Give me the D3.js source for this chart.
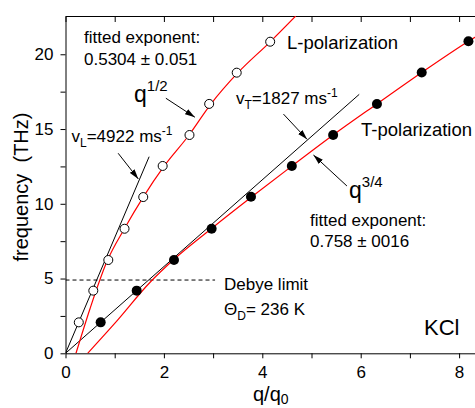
<!DOCTYPE html>
<html>
<head>
<meta charset="utf-8">
<script src="https://cdn.jsdelivr.net/npm/d3@7"></script>
<style>
  body { margin: 0; background: #fff; }
  svg { display: block; font-family: "Liberation Sans", Arial, sans-serif; }
  .axis path, .axis line { stroke: #000; stroke-width: 1; }
  .axis text { font-size: 17px; fill: #000; }
</style>
</head>
<body>
<div class="viz"></div>
<script>
// measured points, L-polarization (open circles)
const qL = [0.27, 0.565, 0.87, 1.20, 1.58, 1.975, 2.52, 2.92, 3.48, 4.16];
const fL = [2.07, 4.19, 6.24, 8.33, 10.45, 12.53, 14.6, 16.68, 18.77, 20.84];
// T-polarization (filled circles)
const qT = [0.715, 1.447, 2.205, 2.97, 3.77, 4.60, 5.44, 6.33, 7.24, 8.19];
const fT = [2.07, 4.19, 6.24, 8.33, 10.47, 12.53, 14.6, 16.68, 18.78, 20.87];

// red fitted curves
const fitLq = [0.213, 0.5, 0.85, 1.2, 1.58, 2.0, 2.5, 2.95, 3.5, 4.15, 4.68];
const fitLf = [0, 3.0, 6.2, 8.35, 10.45, 12.5, 14.55, 16.65, 18.75, 20.8, 22.56];
const fitTq = [0.45, 1.0, 1.72, 2.2, 2.97, 3.78, 4.6, 5.44, 6.33, 7.24, 8.19, 8.6];
const fitTf = [0, 2.0, 4.75, 6.27, 8.35, 10.45, 12.52, 14.6, 16.68, 18.78, 20.87, 21.7];

// sound velocity lines (black), from origin
const vLq = [0, 1.70], vLf = [0, 13.15];
const vTq = [0, 5.97], vTf = [0, 17.32];

// Debye limit
const debyeF = 4.9, debyeQ = [0, 3.04];

const xTicks = [0, 1, 2, 3, 4, 5, 6, 7, 8];
const yTicks = [0, 2.5, 5, 7.5, 10, 12.5, 15, 17.5, 20];

const width = 475, height = 408;
const x = d3.scaleLinear().domain([0, 8.5]).range([65.5, 65.5 + 8.5 * 49.2]);
const y = d3.scaleLinear().domain([0, 22.56]).range([353.3, 16]);

const svg = d3.select(".viz").append("svg")
  .attr("width", width)
  .attr("height", height);

svg.append("defs").append("clipPath").attr("id", "plot")
  .append("rect")
  .attr("x", x(0)).attr("y", y(22.56))
  .attr("width", width - x(0)).attr("height", y(0) - y(22.56));

svg.append("defs").append("marker")
  .attr("id", "arrow")
  .attr("viewBox", "0 0 10 6")
  .attr("refX", 10).attr("refY", 3)
  .attr("markerWidth", 10).attr("markerHeight", 6)
  .attr("markerUnits", "userSpaceOnUse")
  .attr("orient", "auto")
  .append("path").attr("d", "M0,0L10,3L0,6Z").attr("fill", "#000");

// axes
svg.append("g").attr("class", "axis")
  .attr("transform", `translate(0,${y(0)})`)
  .call(d3.axisBottom(x).tickValues(xTicks).tickSize(5).tickSizeOuter(0).tickPadding(8)
    .tickFormat(d => d % 2 === 0 ? d : ""));

svg.append("g").attr("class", "axis")
  .attr("transform", `translate(0,${y(22.56)})`)
  .call(d3.axisTop(x).tickValues(xTicks).tickSize(-6).tickSizeOuter(0).tickFormat(""));

svg.append("g").attr("class", "axis")
  .attr("transform", `translate(${x(0)},0)`)
  .call(d3.axisLeft(y).tickValues(yTicks).tickSize(5).tickSizeOuter(0).tickPadding(7)
    .tickFormat(d => d % 5 === 0 ? d : ""));

const plot = svg.append("g").attr("clip-path", "url(#plot)");
const line = d3.line().x(d => x(d[0])).y(d => y(d[1]));
const curve = d3.line().x(d => x(d[0])).y(d => y(d[1])).curve(d3.curveMonotoneX);

// Debye dashed line
plot.append("path")
  .attr("d", line([[debyeQ[0], debyeF], [debyeQ[1], debyeF]]))
  .attr("stroke", "#000").attr("stroke-dasharray", "4,3").attr("fill", "none");

// velocity lines
[[vLq, vLf], [vTq, vTf]].forEach(([q, f]) => {
  plot.append("path")
    .attr("d", line(q.map((v, i) => [v, f[i]])))
    .attr("stroke", "#000").attr("stroke-width", 1).attr("fill", "none");
});

// fits
[[fitLq, fitLf], [fitTq, fitTf]].forEach(([q, f]) => {
  plot.append("path")
    .attr("d", curve(q.map((v, i) => [v, f[i]])))
    .attr("stroke", "#ff0000").attr("stroke-width", 1.2).attr("fill", "none");
});

// data points
plot.selectAll("circle.l")
  .data(qL.map((v, i) => [v, fL[i]]))
  .join("circle")
  .attr("class", "l")
  .attr("cx", d => x(d[0])).attr("cy", d => y(d[1])).attr("r", 4.5)
  .attr("fill", "#fff").attr("stroke", "#000").attr("stroke-width", 1);

plot.selectAll("circle.t")
  .data(qT.map((v, i) => [v, fT[i]]))
  .join("circle")
  .attr("class", "t")
  .attr("cx", d => x(d[0])).attr("cy", d => y(d[1])).attr("r", 5)
  .attr("fill", "#000");

// annotation arrows [from, to] in data units
const arrows = [
  [[2.04, 17.06], [2.63, 15.79]],
  [[1.07, 13.38], [1.48, 11.66]],
  [[4.43, 16.0], [4.91, 14.31]],
  [[5.72, 11.19], [5.04, 13.26]]
];
svg.selectAll("path.arrow")
  .data(arrows)
  .join("path")
  .attr("class", "arrow")
  .attr("d", d => line(d))
  .attr("stroke", "#000").attr("stroke-width", 1).attr("fill", "none")
  .attr("marker-end", "url(#arrow)");

// text labels
function label(px, py, size, parts) {
  const t = svg.append("text").attr("x", px).attr("y", py)
    .attr("font-size", size).attr("fill", "#000");
  parts.forEach(p => {
    const s = t.append("tspan").text(p.t);
    if (p.size) s.attr("font-size", p.size);
    if (p.dy) s.attr("dy", p.dy);
  });
  return t;
}

label(84, 42.5, 17, [{ t: "fitted exponent:" }]);
label(84, 64.5, 17, [{ t: "0.5304 \u00b1 0.051" }]);
label(134, 101.5, 23, [{ t: "q" }, { t: "1/2", size: 15, dy: -11 }]);
label(71.5, 141.5, 17, [{ t: "v" }, { t: "L", size: 12, dy: 5 }, { t: "=4922 ms", dy: -5 },
  { t: "-1", size: 12, dy: -7 }]);
label(236, 103.5, 17, [{ t: "v" }, { t: "T", size: 12, dy: 5 }, { t: "=1827 ms", dy: -5 },
  { t: "-1", size: 12, dy: -7 }]);
label(287, 49, 18.5, [{ t: "L-polarization" }]);
label(361, 136, 18.5, [{ t: "T-polarization" }]);
label(349, 198, 23, [{ t: "q" }, { t: "3/4", size: 15, dy: -11 }]);
label(310, 226, 17, [{ t: "fitted exponent:" }]);
label(310, 246.5, 17, [{ t: "0.758 \u00b1 0016" }]);
label(224, 290, 17, [{ t: "Debye limit" }]);
label(224, 315, 17, [{ t: "\u0398" }, { t: "D", size: 12, dy: 5 }, { t: "= 236 K", dy: -5 }]);
label(424, 335, 22, [{ t: "KCl" }]);

// axis titles
label(253, 401, 20, [{ t: "q/q" }, { t: "0", size: 14, dy: 3 }]);
svg.append("text")
  .attr("transform", "translate(27.5,187) rotate(-90)")
  .attr("text-anchor", "middle")
  .attr("font-size", 20)
  .attr("xml:space", "preserve")
  .style("white-space", "pre")
  .text("frequency  (THz)");
</script>
</body>
</html>
